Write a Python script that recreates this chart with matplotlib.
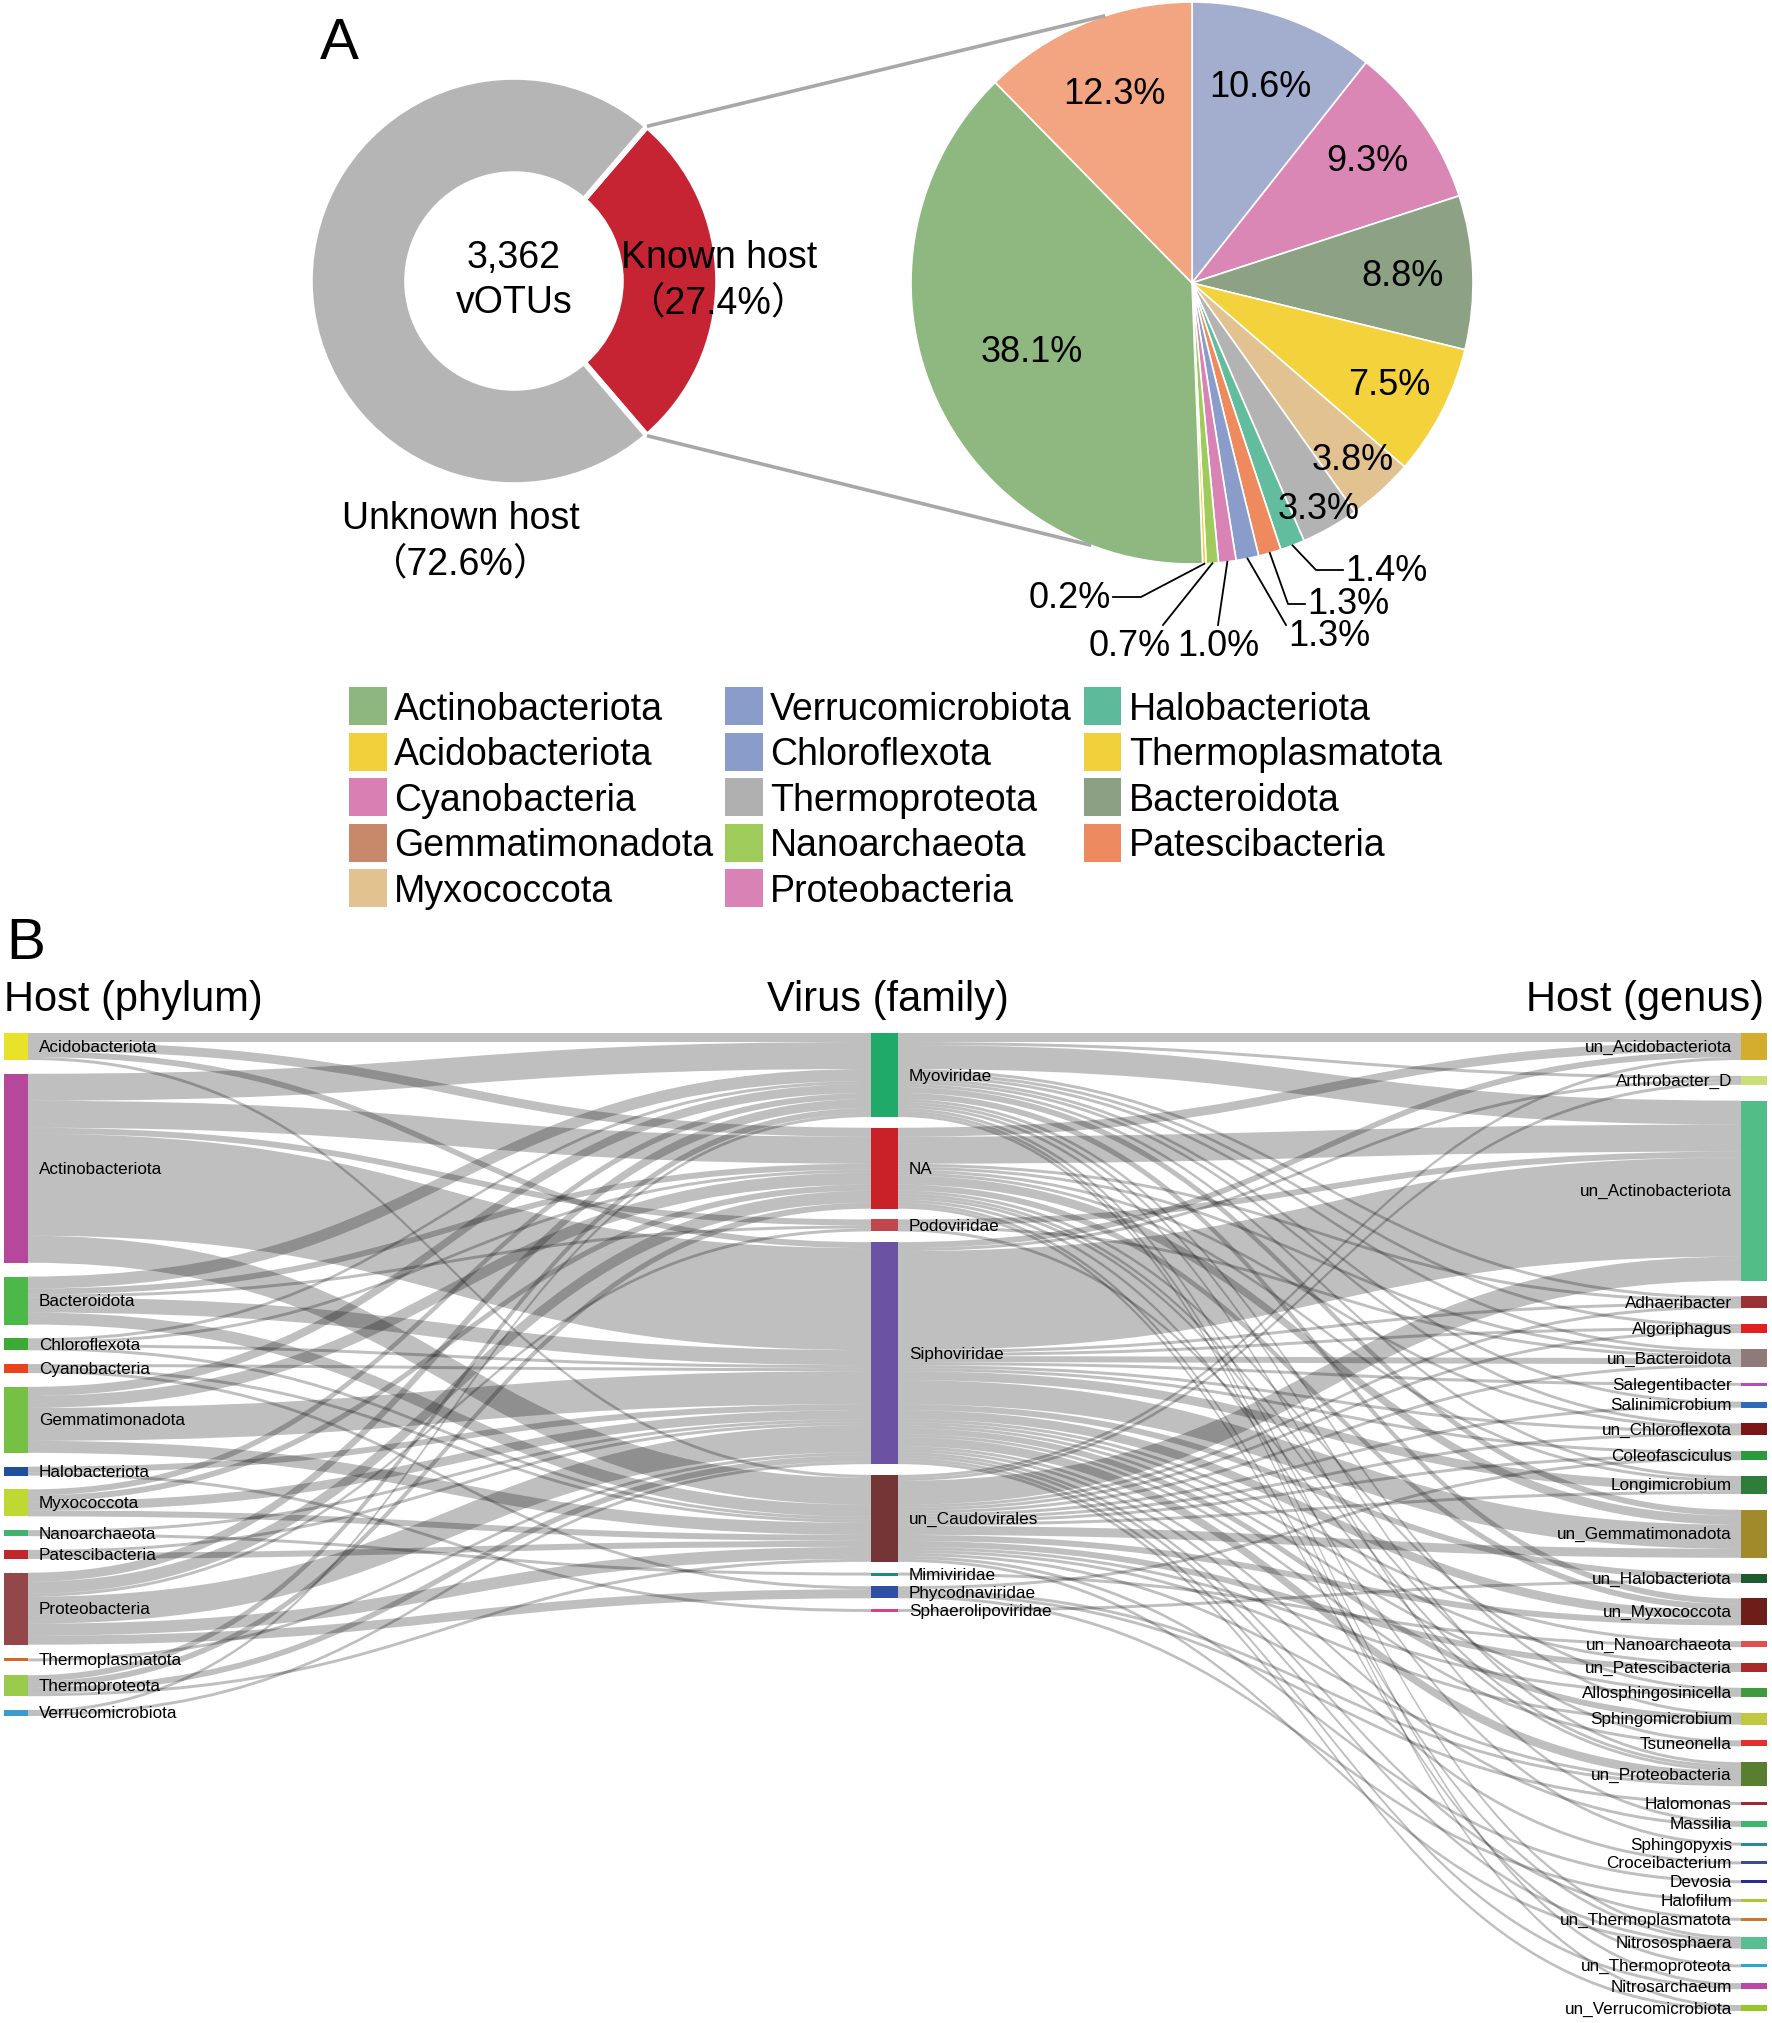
import matplotlib
matplotlib.use("Agg")
import matplotlib.pyplot as plt
from matplotlib.path import Path
from matplotlib.patches import PathPatch, Rectangle, Patch
import numpy as np

W, H = 1772, 2024
plt.rcParams['font.family'] = ['Liberation Sans', 'Noto Sans CJK SC', 'DejaVu Sans']

# ---------------- Panel A data ----------------
donut_labels = ["Known host", "Unknown host"]
donut_values = [27.4, 72.6]
donut_colors = ["#C62433", "#B4B5B4"]
total_votus = "3,362"

pie_names = ["Chloroflexota", "Proteobacteria", "Bacteroidota", "Acidobacteriota",
             "Myxococcota", "Thermoproteota", "Halobacteriota", "Patescibacteria",
             "Verrucomicrobiota", "Cyanobacteria", "Nanoarchaeota", "Thermoplasmatota",
             "Actinobacteriota", "Gemmatimonadota"]
pie_values = [10.6, 9.3, 8.8, 7.5, 3.8, 3.3, 1.4, 1.3, 1.3, 1.0, 0.7, 0.2, 38.1, 12.3]
pie_colors = ["#A3AECF", "#DB87B6", "#8DA284", "#F3D23C", "#E2C290", "#B3B3B3",
              "#62BC9E", "#EF8A5E", "#8A9CC9", "#D982B5", "#9ECB59", "#F2D03B",
              "#8FB880", "#F3A582"]

legend_names = ["Actinobacteriota", "Acidobacteriota", "Cyanobacteria", "Gemmatimonadota",
                "Myxococcota", "Verrucomicrobiota", "Chloroflexota", "Thermoproteota",
                "Nanoarchaeota", "Proteobacteria", "Halobacteriota", "Thermoplasmatota",
                "Bacteroidota", "Patescibacteria"]
legend_colors = ["#8DB77F", "#F2D03B", "#D97FB4", "#C8896B", "#E2C28F", "#8A9CC9",
                 "#8A9CC9", "#B0B0B0", "#9ECB59", "#D982B5", "#5DBA9B", "#F2D03B",
                 "#8BA083", "#EE8A60"]

# ---------------- Panel B data ----------------
phyla = ["Acidobacteriota", "Actinobacteriota", "Bacteroidota", "Chloroflexota",
         "Cyanobacteria", "Gemmatimonadota", "Halobacteriota", "Myxococcota",
         "Nanoarchaeota", "Patescibacteria", "Proteobacteria", "Thermoplasmatota",
         "Thermoproteota", "Verrucomicrobiota"]
phylum_colors = ["#E8E22A", "#B5489B", "#4CB848", "#3DAA35", "#E8441C", "#76C043",
                 "#1F4E9E", "#C0D932", "#3EB56B", "#C0272D", "#94474B", "#D2691E",
                 "#9BCB4C", "#3B9AC6"]

families = ["Myoviridae", "NA", "Podoviridae", "Siphoviridae", "un_Caudovirales",
            "Mimiviridae", "Phycodnaviridae", "Sphaerolipoviridae"]
family_colors = ["#1FAA6A", "#C92127", "#C0474B", "#6B52A3", "#733535",
                 "#1E8C84", "#2E4FA2", "#E03C8A"]

genera = ["un_Acidobacteriota", "Arthrobacter_D", "un_Actinobacteriota", "Adhaeribacter",
          "Algoriphagus", "un_Bacteroidota", "Salegentibacter", "Salinimicrobium",
          "un_Chloroflexota", "Coleofasciculus", "Longimicrobium", "un_Gemmatimonadota",
          "un_Halobacteriota", "un_Myxococcota", "un_Nanoarchaeota", "un_Patescibacteria",
          "Allosphingosinicella", "Sphingomicrobium", "Tsuneonella", "un_Proteobacteria",
          "Halomonas", "Massilia", "Sphingopyxis", "Croceibacterium", "Devosia",
          "Halofilum", "un_Thermoplasmatota", "Nitrososphaera", "un_Thermoproteota",
          "Nitrosarchaeum", "un_Verrucomicrobiota"]
genus_phylum = ["Acidobacteriota", "Actinobacteriota", "Actinobacteriota", "Bacteroidota",
                "Bacteroidota", "Bacteroidota", "Bacteroidota", "Bacteroidota",
                "Chloroflexota", "Cyanobacteria", "Gemmatimonadota", "Gemmatimonadota",
                "Halobacteriota", "Myxococcota", "Nanoarchaeota", "Patescibacteria",
                "Proteobacteria", "Proteobacteria", "Proteobacteria", "Proteobacteria",
                "Proteobacteria", "Proteobacteria", "Proteobacteria", "Proteobacteria",
                "Proteobacteria", "Proteobacteria", "Thermoplasmatota", "Thermoproteota",
                "Thermoproteota", "Thermoproteota", "Verrucomicrobiota"]
genus_colors = ["#D4AD2F", "#C8E07A", "#52BE87", "#993333", "#E02020", "#8E7A78",
                "#B050B0", "#2D6BB8", "#7A1518", "#2E9A3E", "#2F7D3A", "#A08A2A",
                "#1E5A2E", "#6E1E18", "#E05050", "#A82828", "#3E9A3A", "#C0C840",
                "#E03030", "#5A7E30", "#A02830", "#3CB870", "#2A8A9A", "#3A4E98",
                "#2A2A98", "#A8C830", "#C87828", "#58C090", "#28A8D0", "#B848A8",
                "#98C828"]
# counts per genus across families (Myo, NA, Podo, Sipho, unCaudo, Mimi, Phyco, Sphaero)
genus_family_counts = [
    [3, 3, 0, 2, 1, 0, 0, 0],
    [1, 0, 0, 1, 1, 0, 0, 0],
    [8, 9, 2, 33, 8, 0, 0, 0],
    [1, 1, 0, 1, 1, 0, 0, 0],
    [1, 0, 0, 1, 1, 0, 0, 0],
    [1, 1, 1, 2, 1, 0, 0, 0],
    [0, 0, 0, 1, 0, 0, 0, 0],
    [1, 0, 0, 0, 1, 0, 0, 0],
    [1, 1, 0, 1, 1, 0, 0, 0],
    [0, 0, 0, 1, 1, 0, 1, 0],
    [1, 1, 0, 3, 1, 0, 0, 0],
    [2, 3, 0, 8, 3, 0, 0, 0],
    [0, 0, 0, 2, 0, 0, 0, 1],
    [2, 2, 0, 3, 2, 0, 0, 0],
    [0, 0, 0, 1, 0, 1, 0, 0],
    [0, 0, 0, 1, 2, 0, 0, 0],
    [0, 1, 0, 1, 1, 0, 0, 0],
    [1, 0, 0, 2, 1, 0, 0, 0],
    [0, 1, 0, 1, 0, 0, 0, 0],
    [1, 1, 1, 3, 1, 0, 1, 0],
    [0, 0, 0, 0, 0, 0, 1, 0],
    [1, 0, 0, 1, 0, 0, 0, 0],
    [0, 1, 0, 0, 0, 0, 0, 0],
    [0, 0, 0, 1, 0, 0, 0, 0],
    [0, 0, 0, 0, 1, 0, 0, 0],
    [0, 0, 0, 0, 0, 0, 1, 0],
    [0, 0, 0, 1, 0, 0, 0, 0],
    [1, 1, 0, 1, 1, 0, 0, 0],
    [0, 1, 0, 0, 0, 0, 0, 0],
    [1, 0, 0, 1, 0, 0, 0, 0],
    [1, 0, 0, 1, 0, 0, 0, 0],
]
column_titles = ["Host (phylum)", "Virus (family)", "Host (genus)"]

# ---------------- figure ----------------
fig = plt.figure(figsize=(W / 100, H / 100), dpi=100)
ax = fig.add_axes([0, 0, 1, 1])
ax.set_xlim(0, W)
ax.set_ylim(H, 0)

FS = 27

# ---- donut ----
dcx, dcy, dR, dr = 514, 282, 204, 107
d_start = -donut_values[0] / sum(donut_values) * 180
dw, _ = ax.pie(donut_values, colors=donut_colors, startangle=d_start, counterclock=True,
               radius=dR, center=(dcx, dcy), frame=True,
               wedgeprops=dict(width=dR - dr, edgecolor='white', linewidth=4))
ax.text(dcx, 258, total_votus, ha='center', va='center', fontsize=FS)
ax.text(dcx, 303, "vOTUs", ha='center', va='center', fontsize=FS)
ax.text(719, 258, donut_labels[0], ha='center', va='center', fontsize=FS)
ax.text(719, 303, f"（{donut_values[0]}%）", ha='center', va='center', fontsize=FS)
ax.text(461, 519, donut_labels[1], ha='center', va='center', fontsize=FS)
ax.text(461, 564, f"（{donut_values[1]}%）", ha='center', va='center', fontsize=FS)

# ---- pie ----
pcx, pcy, pR = 1192, 284, 281
pw, _ = ax.pie(pie_values, colors=pie_colors, startangle=-90, counterclock=True,
               radius=pR, center=(pcx, pcy), frame=True,
               wedgeprops=dict(edgecolor='white', linewidth=1.2))

def pt(cx, cy, r, ang):
    a = np.deg2rad(ang)
    return cx + r * np.cos(a), cy + r * np.sin(a)

# connection lines
t_red1, t_red2 = dw[0].theta1, dw[0].theta2
for ta, tb in [(t_red1, -108), (t_red2, 111)]:
    x0, y0 = pt(dcx, dcy, dR, ta)
    x1, y1 = pt(pcx, pcy, pR, tb)
    ax.plot([x0, x1], [y0, y1], color='#A8A8A8', lw=2.6, zorder=1, solid_capstyle='butt')

# big labels
big_r = {0: 0.74, 1: 0.76, 2: 0.75, 3: 0.79, 4: 0.85, 5: 0.92, 12: 0.62, 13: 0.73}
for i, f in big_r.items():
    mid = (pw[i].theta1 + pw[i].theta2) / 2
    x, y = pt(pcx, pcy, pR * f, mid)
    ax.text(x, y, f"{pie_values[i]}%", ha='center', va='center', fontsize=26)

# small labels with leader lines: (elbow dx,dy), (end dx,dy), (text dx,dy), ha
small_layout = {
    6: ((124, 287), (151, 287), (153, 287), 'left'),
    7: ((96, 321), (113, 321), (115, 320), 'left'),
    8: ((94, 342), (94, 342), (96, 352), 'left'),
    9: ((26, 342), (26, 342), (26, 362), 'center'),
    10: ((-29, 342), (-29, 342), (-62, 362), 'center'),
    11: ((-51, 314), (-79, 314), (-81, 314), 'right'),
}
for i, (el, en, tx, ha) in small_layout.items():
    mid = (pw[i].theta1 + pw[i].theta2) / 2
    x0, y0 = pt(pcx, pcy, pR, mid)
    ax.plot([x0, pcx + el[0], pcx + en[0]], [y0, pcy + el[1], pcy + en[1]],
            color='black', lw=1.3, zorder=3)
    ax.text(pcx + tx[0], pcy + tx[1], f"{pie_values[i]}%", ha=ha, va='center', fontsize=26)

ax.text(320, 44, "A", ha='left', va='center', fontsize=42)

# legend
handles = [Patch(facecolor=c, edgecolor='none') for c in legend_colors]
fig.legend(handles, legend_names, loc='upper left', bbox_to_anchor=(349 / W, 1 - 688 / H),
           ncol=3, frameon=False, fontsize=FS, handlelength=1.0, handleheight=1.2,
           handletextpad=0.2, labelspacing=0.15, columnspacing=0.32, borderpad=0,
           borderaxespad=0)

# ---------------- Panel B: sankey ----------------
ax.text(6, 944, "B", ha='left', va='center', fontsize=42)
ax.text(4, 1000, column_titles[0], ha='left', va='center', fontsize=30)
ax.text(888, 1000, column_titles[1], ha='center', va='center', fontsize=30)
ax.text(1764, 1000, column_titles[2], ha='right', va='center', fontsize=30)

gfc = np.array(genus_family_counts)
g_phy_idx = [phyla.index(p) for p in genus_phylum]
pf = np.zeros((len(phyla), len(families)), dtype=int)
for g, p in enumerate(g_phy_idx):
    pf[p] += gfc[g]

val_left = pf.sum(axis=1)
val_mid = pf.sum(axis=0)
val_right = gfc.sum(axis=1)

top = 1034
ky = 3.0

def stack(values, bottom):
    gap = (bottom - top - values.sum() * ky) / (len(values) - 1)
    ys, y = [], top
    for v in values:
        ys.append(y)
        y += v * ky + gap
    return ys

y_left = stack(val_left, 1717)
y_mid = stack(val_mid, 1613)
y_right = stack(val_right, 2012)
xl0, xl1 = 4, 28
xm0, xm1 = 871, 898
xr0, xr1 = 1741, 1767

links01 = [(p, f, pf[p, f]) for p in range(len(phyla)) for f in range(len(families)) if pf[p, f] > 0]
links12 = [(f, g, gfc[g, f]) for g in range(len(genera)) for f in range(len(families)) if gfc[g, f] > 0]

def positions(links, sy, ty):
    soff, toff = list(sy), list(ty)
    ys = [0] * len(links)
    yt = [0] * len(links)
    for i in sorted(range(len(links)), key=lambda i: (links[i][0], ty[links[i][1]])):
        s, t, v = links[i]
        ys[i] = soff[s]; soff[s] += v * ky
    for i in sorted(range(len(links)), key=lambda i: (links[i][1], sy[links[i][0]])):
        s, t, v = links[i]
        yt[i] = toff[t]; toff[t] += v * ky
    return ys, yt

def band(x0, y0, x1, y1, h):
    xm = (x0 + x1) / 2
    verts = [(x0, y0), (xm, y0), (xm, y1), (x1, y1), (x1, y1 + h),
             (xm, y1 + h), (xm, y0 + h), (x0, y0 + h), (x0, y0)]
    codes = [Path.MOVETO, Path.CURVE4, Path.CURVE4, Path.CURVE4, Path.LINETO,
             Path.CURVE4, Path.CURVE4, Path.CURVE4, Path.CLOSEPOLY]
    return PathPatch(Path(verts, codes), facecolor='black', alpha=0.25,
                     edgecolor='none', zorder=2)

for links, sy, ty, xa, xb in [(links01, y_left, y_mid, xl1, xm0),
                              (links12, y_mid, y_right, xm1, xr0)]:
    ys, yt = positions(links, sy, ty)
    for i, (s, t, v) in enumerate(links):
        ax.add_patch(band(xa, ys[i], xb, yt[i], v * ky))

def nodes(names, colors, ys, vals, x0, x1, side):
    for n, c, y, v in zip(names, colors, ys, vals):
        h = v * ky
        ax.add_patch(Rectangle((x0, y), x1 - x0, h, facecolor=c, edgecolor='none', zorder=3))
        if side == 'right':
            ax.text(x1 + 11, y + h / 2, n, ha='left', va='center', fontsize=12.3, zorder=4)
        else:
            ax.text(x0 - 9, y + h / 2, n, ha='right', va='center', fontsize=12.3, zorder=4)

nodes(phyla, phylum_colors, y_left, val_left, xl0, xl1, 'right')
nodes(families, family_colors, y_mid, val_mid, xm0, xm1, 'right')
nodes(genera, genus_colors, y_right, val_right, xr0, xr1, 'left')

ax.set_xlim(0, W)
ax.set_ylim(H, 0)
ax.set_axis_off()
fig.savefig("out.png", dpi=100)
